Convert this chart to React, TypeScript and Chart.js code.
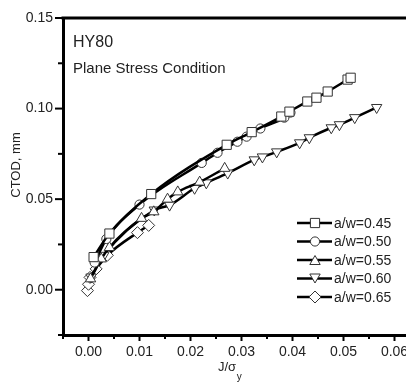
import React, { useEffect, useRef } from "react";
import { Chart, registerables } from "chart.js";

Chart.register(...registerables);

// a/w = 0.45 (squares)
const J45 = [0.0010, 0.0041, 0.0123, 0.0271, 0.0320, 0.0378, 0.0394, 0.0429, 0.0447, 0.0469, 0.0508, 0.0514];
const C45 = [0.018, 0.031, 0.0528, 0.080, 0.087, 0.0956, 0.0983, 0.1039, 0.106, 0.1094, 0.116, 0.117];
// a/w = 0.50 (circles)
const J50 = [0.0012, 0.0035, 0.0100, 0.0222, 0.0253, 0.0292, 0.0310, 0.0337, 0.0384, 0.0396];
const C50 = [0.015, 0.028, 0.047, 0.070, 0.0756, 0.0817, 0.0845, 0.089, 0.095, 0.0978];
// a/w = 0.55 (up triangles)
const J55 = [0.0004, 0.0025, 0.0041, 0.0104, 0.0128, 0.0155, 0.0175, 0.0218, 0.0267];
const C55 = [0.006, 0.017, 0.0233, 0.0394, 0.043, 0.050, 0.054, 0.0594, 0.067];
// a/w = 0.60 (down triangles)
const J60 = [0.0005, 0.0030, 0.0129, 0.0159, 0.0208, 0.0231, 0.0273, 0.0325, 0.0341, 0.0369, 0.0414, 0.0433, 0.0476, 0.0492, 0.0522, 0.0565];
const C60 = [0.007, 0.019, 0.044, 0.0467, 0.056, 0.059, 0.0644, 0.0717, 0.0733, 0.0761, 0.0811, 0.0839, 0.0894, 0.0911, 0.095, 0.1006];
// a/w = 0.65 (diamonds)
const J65 = [-0.0002, 0.0000, 0.0003, 0.0015, 0.0037, 0.0096, 0.0118];
const C65 = [-0.0005, 0.003, 0.0068, 0.0115, 0.019, 0.0315, 0.0355];

const SERIES_LABELS = ["a/w=0.45", "a/w=0.50", "a/w=0.55", "a/w=0.60", "a/w=0.65"];
const X_TICK_STEP = 0.005;
const Y_TICK_STEP = 0.025;
const X_LABEL_STEP = 0.01;
const Y_LABEL_STEP = 0.05;
const TITLE_LINES = ["HY80", "Plane Stress Condition"];
const Y_TITLE = "CTOD, mm";
const X_TITLE_MAIN = "J/σ";
const X_TITLE_SUB = "y";

const FONT = "'Liberation Sans', Arial, sans-serif";
const TEXT = "#222";
const MARK = "#333";

const isMultiple = (v: number, step: number) => Math.abs(v / step - Math.round(v / step)) < 1e-6;
const fmt = (v: number) => (Math.abs(v) < 1e-9 ? 0 : v).toFixed(2);

const pts = (xs: number[], ys: number[]) => xs.map((x, i) => ({ x, y: ys[i] }));

type Mk = { style: string; r: number; rot: number };
const MARKERS: Mk[] = [
  { style: "rect", r: 6.5, rot: 0 },
  { style: "circle", r: 4.6, rot: 0 },
  { style: "triangle", r: 6, rot: 0 },
  { style: "triangle", r: 6, rot: 180 },
  { style: "rectRot", r: 6, rot: 0 },
];

function drawMarker(ctx: CanvasRenderingContext2D, m: Mk, x: number, y: number) {
  ctx.beginPath();
  if (m.style === "rect") {
    const s = m.r * Math.SQRT1_2;
    ctx.rect(x - s, y - s, 2 * s, 2 * s);
  } else if (m.style === "circle") {
    ctx.arc(x, y, m.r, 0, Math.PI * 2);
  } else if (m.style === "triangle") {
    const sgn = m.rot ? -1 : 1;
    for (let k = 0; k < 3; k++) {
      const a = -Math.PI / 2 + (k * 2 * Math.PI) / 3;
      const px = x + m.r * Math.cos(a);
      const py = y + sgn * m.r * Math.sin(a) + (sgn * m.r) / 4;
      if (k === 0) ctx.moveTo(px, py);
      else ctx.lineTo(px, py);
    }
    ctx.closePath();
  } else {
    ctx.moveTo(x, y - m.r);
    ctx.lineTo(x + m.r, y);
    ctx.lineTo(x, y + m.r);
    ctx.lineTo(x - m.r, y);
    ctx.closePath();
  }
  ctx.fillStyle = "#fff";
  ctx.fill();
  ctx.lineWidth = 1;
  ctx.strokeStyle = MARK;
  ctx.stroke();
}

const decorPlugin = {
  id: "decor",
  afterDraw(chart: any) {
    const { ctx, chartArea: a, scales } = chart;
    const x = scales.x;
    const y = scales.y;
    ctx.save();
    // top frame
    ctx.strokeStyle = "#000";
    ctx.lineWidth = 3;
    ctx.beginPath();
    ctx.moveTo(a.left - 1.5, a.top);
    ctx.lineTo(a.right, a.top);
    ctx.stroke();
    // tick marks
    ctx.lineWidth = 2;
    x.ticks.forEach((t: any) => {
      const px = x.getPixelForValue(t.value);
      const len = isMultiple(t.value, X_LABEL_STEP) ? 6 : 4;
      ctx.beginPath();
      ctx.moveTo(px, a.bottom);
      ctx.lineTo(px, a.bottom + len);
      ctx.stroke();
    });
    y.ticks.forEach((t: any) => {
      const py = y.getPixelForValue(t.value);
      const len = isMultiple(t.value, Y_LABEL_STEP) ? 8 : 5;
      ctx.beginPath();
      ctx.moveTo(a.left, py);
      ctx.lineTo(a.left - len, py);
      ctx.stroke();
    });
    // annotations
    ctx.fillStyle = TEXT;
    ctx.textAlign = "left";
    ctx.textBaseline = "alphabetic";
    ctx.font = `16px ${FONT}`;
    ctx.fillText(TITLE_LINES[0], a.left + 10, 47);
    ctx.font = `15px ${FONT}`;
    ctx.fillText(TITLE_LINES[1], a.left + 10, 73);
    // y title
    ctx.save();
    ctx.translate(16, 165);
    ctx.rotate(-Math.PI / 2);
    ctx.font = `13px ${FONT}`;
    ctx.textAlign = "center";
    ctx.textBaseline = "middle";
    ctx.fillText(Y_TITLE, 0, 0);
    ctx.restore();
    // x title with subscript
    ctx.font = `13px ${FONT}`;
    const wMain = ctx.measureText(X_TITLE_MAIN).width;
    const x0 = 218;
    ctx.textAlign = "left";
    ctx.textBaseline = "alphabetic";
    ctx.fillText(X_TITLE_MAIN, x0, 371);
    ctx.font = `10px ${FONT}`;
    ctx.fillText(X_TITLE_SUB, x0 + wMain + 0.5, 380);
    // legend
    const rows = [223, 241.5, 260, 278.5, 297];
    rows.forEach((ry, i) => {
      ctx.strokeStyle = "#000";
      ctx.lineWidth = 2.5;
      ctx.beginPath();
      ctx.moveTo(297, ry);
      ctx.lineTo(332, ry);
      ctx.stroke();
      drawMarker(ctx, MARKERS[i], 315, ry);
      ctx.fillStyle = TEXT;
      ctx.font = `14px ${FONT}`;
      ctx.textBaseline = "middle";
      ctx.fillText(SERIES_LABELS[i], 334, ry + 1);
    });
    ctx.restore();
  },
};

export default function App() {
  const ref = useRef<HTMLCanvasElement | null>(null);
  useEffect(() => {
    if (!ref.current) return;
    const sets = [pts(J45, C45), pts(J50, C50), pts(J55, C55), pts(J60, C60), pts(J65, C65)];
    const chart = new Chart(ref.current, {
      type: "line",
      data: {
        datasets: sets.map((d, i) => ({
          label: SERIES_LABELS[i],
          data: d,
          borderColor: "#000",
          borderWidth: 2.5,
          cubicInterpolationMode: "monotone",
          pointStyle: MARKERS[i].style as any,
          pointRotation: MARKERS[i].rot,
          pointRadius: MARKERS[i].r,
          pointBackgroundColor: "#fff",
          pointBorderColor: MARK,
          pointBorderWidth: 1,
          fill: false,
        })),
      },
      options: {
        responsive: false,
        animation: false,
        events: [],
        layout: { padding: { top: 18, right: 10, left: 0, bottom: 0 } },
        plugins: { legend: { display: false }, tooltip: { enabled: false } },
        scales: {
          x: {
            type: "linear",
            min: -0.005,
            max: 0.065,
            afterFit: (s: any) => {
              s.height = 47;
            },
            border: { display: true, color: "#000", width: 3 },
            grid: { display: true, drawOnChartArea: false, tickLength: 6, tickColor: "rgba(0,0,0,0)" },
            ticks: {
              stepSize: X_TICK_STEP,
              autoSkip: false,
              maxRotation: 0,
              padding: 3,
              color: TEXT,
              font: { family: FONT, size: 14 },
              callback: (v: any) => (isMultiple(Number(v), X_LABEL_STEP) ? fmt(Number(v)) : ""),
            },
          },
          y: {
            type: "linear",
            min: -0.025,
            max: 0.15,
            afterFit: (s: any) => {
              s.width = 63;
            },
            border: { display: true, color: "#000", width: 3 },
            grid: { display: true, drawOnChartArea: false, tickLength: 7, tickColor: "rgba(0,0,0,0)" },
            ticks: {
              stepSize: Y_TICK_STEP,
              autoSkip: false,
              padding: 3,
              color: TEXT,
              font: { family: FONT, size: 14 },
              callback: (v: any) => (isMultiple(Number(v), Y_LABEL_STEP) ? fmt(Number(v)) : ""),
            },
          },
        },
      },
      plugins: [decorPlugin],
    });
    return () => chart.destroy();
  }, []);
  return (
    <div style={{ position: "fixed", left: 0, top: 0, width: 406, height: 382, overflow: "hidden", background: "#fff" }}>
      <canvas ref={ref} width={430} height={382} style={{ display: "block" }} />
    </div>
  );
}
